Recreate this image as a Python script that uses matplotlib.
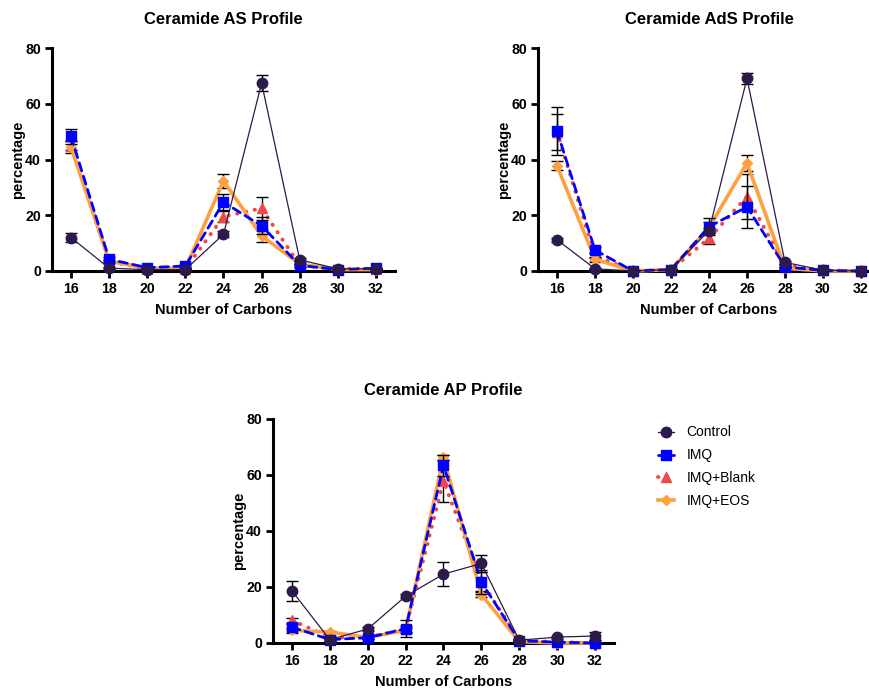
import matplotlib
matplotlib.use("Agg")
import matplotlib.pyplot as plt
import numpy as np

plt.rcParams['font.family'] = ['Liberation Sans', 'DejaVu Sans']

carbons = [16, 18, 20, 22, 24, 26, 28, 30, 32]
groups = ["Control", "IMQ", "IMQ+Blank", "IMQ+EOS"]

# Ceramide AS
as_control = [12.0, 1.0, 0.5, 0.5, 13.2, 67.4, 4.0, 0.8, 0.8]
as_imq = [48.3, 4.2, 1.2, 1.8, 24.7, 16.2, 2.0, 0.5, 1.0]
as_blank = [45.0, 3.5, 0.8, 0.8, 19.5, 22.5, 2.0, 0.8, 0.8]
as_eos = [44.4, 3.5, 1.0, 1.0, 32.3, 12.6, 2.5, 0.5, 0.5]
as_control_sd = [1.6, 0.3, 0.2, 0.2, 1.0, 2.8, 0.5, 0.3, 0.3]
as_imq_sd = [2.6, 0.8, 0.3, 0.3, 2.8, 3.0, 0.5, 0.2, 0.2]
as_blank_sd = [1.5, 0.5, 0.2, 0.2, 2.0, 4.2, 0.5, 0.2, 0.2]
as_eos_sd = [2.2, 0.5, 0.2, 0.2, 2.4, 2.3, 0.5, 0.2, 0.2]

# Ceramide AdS
ads_control = [11.2, 0.8, 0.0, 0.5, 14.5, 69.1, 3.1, 0.3, 0.0]
ads_imq = [50.2, 7.5, 0.0, 0.5, 15.9, 23.0, 1.5, 0.2, 0.0]
ads_blank = [50.0, 5.5, 0.0, 0.5, 11.7, 26.7, 2.0, 0.2, 0.0]
ads_eos = [37.8, 4.2, 0.0, 0.5, 15.5, 38.7, 1.0, 0.0, 0.0]
ads_control_sd = [0.8, 0.2, 0.0, 0.2, 1.0, 1.9, 0.5, 0.2, 0.0]
ads_imq_sd = [8.5, 1.0, 0.0, 0.2, 3.0, 7.6, 0.5, 0.1, 0.0]
ads_blank_sd = [6.5, 1.0, 0.0, 0.2, 2.0, 8.0, 0.5, 0.1, 0.0]
ads_eos_sd = [1.5, 0.8, 0.0, 0.2, 2.0, 3.0, 0.3, 0.0, 0.0]

# Ceramide AP
ap_control = [18.6, 1.2, 5.0, 16.7, 24.6, 28.4, 1.0, 2.1, 2.5]
ap_imq = [5.7, 1.2, 1.9, 5.1, 63.4, 21.7, 0.8, 0.3, 0.0]
ap_blank = [8.1, 2.0, 2.0, 5.0, 57.9, 22.0, 1.0, 0.3, 0.0]
ap_eos = [4.5, 3.9, 2.0, 4.5, 66.3, 17.3, 0.5, 0.0, 0.0]
ap_control_sd = [3.6, 0.5, 0.8, 0.8, 4.4, 3.0, 0.3, 0.5, 1.4]
ap_imq_sd = [1.0, 0.5, 0.5, 3.0, 3.8, 4.3, 0.3, 0.1, 0.0]
ap_blank_sd = [1.0, 0.5, 0.5, 1.0, 7.6, 3.5, 0.3, 0.1, 0.0]
ap_eos_sd = [1.0, 0.5, 0.5, 1.0, 1.0, 1.0, 0.3, 0.0, 0.0]

styles = {
    "Control": dict(color="#2c1a4d", ls="-", lw=0.9, marker="o", ms=7.5, z=5),
    "IMQ": dict(color="#0000ff", ls=(0, (3, 2)), lw=2.0, marker="s", ms=7.5, z=4),
    "IMQ+Blank": dict(color="#f04848", ls=(0, (0.1, 2.2)), lw=2.8, marker="^", ms=7.5, z=2),
    "IMQ+EOS": dict(color="#ffa040", ls="-", lw=2.6, marker="D", ms=5.5, z=3),
}


def draw_panel(ax, title, series, errors):
    handles = []
    for name, vals, err in zip(groups, series, errors):
        st = styles[name]
        ax.errorbar(carbons, vals, yerr=err, fmt="none", ecolor="black",
                    elinewidth=1.0, capsize=4, capthick=1.0, zorder=st["z"],
                    clip_on=False)
        line, = ax.plot(carbons, vals, color=st["color"], ls=st["ls"],
                        lw=st["lw"], marker=st["marker"], ms=st["ms"],
                        markeredgecolor=st["color"], zorder=st["z"] + 0.5,
                        clip_on=False, dash_capstyle="round", label=name)
        handles.append(line)
    ax.set_xlim(15, 33)
    ax.set_ylim(0, 80)
    ax.set_xticks(carbons)
    ax.set_yticks([0, 20, 40, 60, 80])
    ax.spines["top"].set_visible(False)
    ax.spines["right"].set_visible(False)
    ax.spines["left"].set_linewidth(2.2)
    ax.spines["bottom"].set_linewidth(2.2)
    ax.tick_params(direction="out", length=5, width=2, labelsize=10.2, pad=3)
    for lab in ax.get_xticklabels() + ax.get_yticklabels():
        lab.set_fontweight("bold")
    ax.set_title(title, fontsize=12, fontweight="bold", pad=17)
    ax.set_xlabel("Number of Carbons", fontsize=10.5, fontweight="bold", labelpad=5)
    ax.set_ylabel("percentage", fontsize=10.5, fontweight="bold", labelpad=0)
    return handles


fig = plt.figure(figsize=(8.7, 6.91), dpi=100)
ax1 = fig.add_axes([52 / 870, 1 - 271 / 691, 343 / 870, 223 / 691])
ax2 = fig.add_axes([538 / 870, 1 - 271 / 691, 342 / 870, 223 / 691])
ax3 = fig.add_axes([273 / 870, 1 - 643 / 691, 341 / 870, 224 / 691])

h = draw_panel(ax1, "Ceramide AS Profile",
               [as_control, as_imq, as_blank, as_eos],
               [as_control_sd, as_imq_sd, as_blank_sd, as_eos_sd])
draw_panel(ax2, "Ceramide AdS Profile",
           [ads_control, ads_imq, ads_blank, ads_eos],
           [ads_control_sd, ads_imq_sd, ads_blank_sd, ads_eos_sd])
draw_panel(ax3, "Ceramide AP Profile",
           [ap_control, ap_imq, ap_blank, ap_eos],
           [ap_control_sd, ap_imq_sd, ap_blank_sd, ap_eos_sd])

fig.legend(handles=h, labels=groups, loc="upper left",
           bbox_to_anchor=(645 / 870, 1 - 413 / 691), frameon=False,
           fontsize=10, handlelength=1.2, handletextpad=0.9, labelspacing=0.64,
           markerscale=1.0)

fig.savefig("out.png", dpi=100)
